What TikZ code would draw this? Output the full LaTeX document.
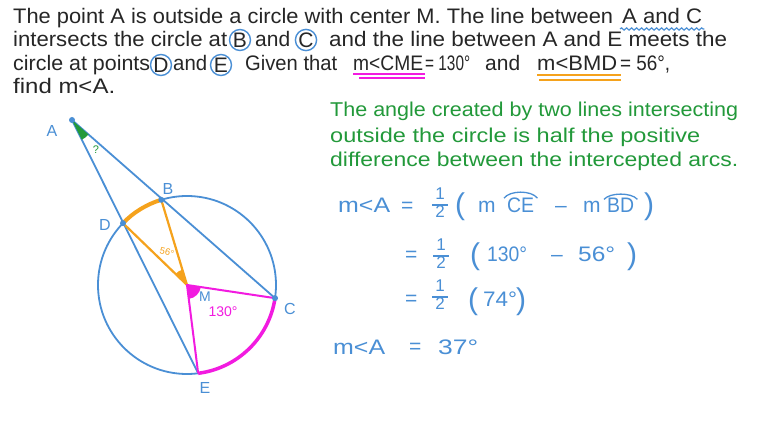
\documentclass[tikz,border=0pt]{standalone}
\usepackage{fontspec}
\setmainfont{Liberation Sans}
\usepackage{graphicx}
\usetikzlibrary{calc,decorations.pathmorphing}
\definecolor{bl}{HTML}{4A8FD5}
\definecolor{gr}{HTML}{22993A}
\definecolor{mag}{HTML}{F21BE0}
\definecolor{org}{HTML}{F5A21C}
\definecolor{ink}{HTML}{262626}
\newcommand\fw[2]{\resizebox{#1pt}{\height}{#2}}
\newcommand\halfstack{\renewcommand\arraystretch{0.8}\begin{tabular}{@{\hspace{3pt}}c@{\hspace{3pt}}}1\\\hline 2\end{tabular}}
\setlength{\arrayrulewidth}{1.4pt}
\tikzset{
 txt/.style={anchor=base west,inner sep=0pt,text=ink,font=\fontsize{21}{24}\selectfont},
 gtxt/.style={txt,text=gr,font=\fontsize{20}{24}\selectfont},
 mth/.style={anchor=base west,inner sep=0pt,text=bl,font=\fontsize{21}{24}\selectfont},
 paren/.style={mth,font=\fontsize{30}{30}\selectfont},
 frac/.style={inner sep=0pt,text=bl,font=\fontsize{17}{19}\selectfont},
 circ/.style={circle,draw=bl,line width=1.4pt,inner sep=0pt,minimum size=21pt,text=ink,font=\fontsize{21}{24}\selectfont},
 blue line/.style={draw=bl,line width=1.8pt},
 lbl/.style={text=bl,font=\fontsize{16}{16}\selectfont,inner sep=0pt},
 dot/.style={circle,fill=bl,inner sep=0pt,minimum size=6pt},
}
\begin{document}
\begin{tikzpicture}[x=1pt,y=-1pt]
\useasboundingbox[fill=white] (0,0) rectangle (760,427);

% ---- problem text ----
\node[txt] (t1a) at (13,24) {\fw{600}{The point A is outside a circle with center M. The line between}};
\node[txt] (t1b) at (622,24) {\fw{80}{A and C}};
\draw[bl,line width=1.2pt,decorate,decoration={snake,amplitude=1.1pt,segment length=5pt}]
  ($(t1b.base west)+(-2,5)$) -- ($(t1b.base east)+(2,5)$);

\node[txt] (t2a) at (13,47) {\fw{214}{intersects the circle at}};
\node[circ] (cB) at (240,40) {B};
\node[txt] (t2b) at (255,47) {\fw{35}{and}};
\node[circ] (cC) at (306,40) {C};
\node[txt] (t2c) at (329,47) {\fw{398}{and the line between A and E meets the}};

\node[txt] (t3a) at (13,71) {\fw{137}{circle at points}};
\node[circ] (cD) at (161,65) {D};
\node[txt] (t3b) at (173,71) {\fw{34}{and}};
\node[circ] (cE) at (221,65) {E};
\node[txt] (t3c) at (245,71) {\fw{92}{Given that}};
\node[txt] (t3d) at (353,71) {\fw{70}{m<CME}};
\node[txt] (t3e) at (425,71) {\fw{45}{= 130°}};
\node[txt] (t3f) at (485,71) {\fw{35}{and}};
\node[txt] (t3g) at (537,71) {\fw{80}{m<BMD}};
\node[txt] (t3h) at (620,71) {\fw{50}{= 56°,}};
\draw[mag,line width=1.6pt] ($(t3d.base west)+(0,3)$) -- ($(t3d.base east)+(2,3)$);
\draw[mag,line width=1.6pt] ($(t3d.base west)+(6,7)$) -- ($(t3d.base east)+(2,7)$);
\draw[org,line width=1.6pt] ($(t3g.base west)+(0,4)$) -- ($(t3g.base east)+(4,4)$);
\draw[org,line width=1.6pt] ($(t3g.base west)+(2,9)$) -- ($(t3g.base east)+(4,9)$);

\node[txt] (t4) at (13,94) {\fw{102}{find m<A.}};

% ---- green rule ----
\node[gtxt] (g1) at (330,117) {\fw{408}{The angle created by two lines intersecting}};
\node[gtxt] (g2) at (330,143) {\fw{370}{outside the circle is half the positive}};
\node[gtxt] (g3) at (330,167) {\fw{408}{difference between the intercepted arcs.}};

% ---- working ----
\node[mth] (r1a) at (338,213) {\fw{52}{m<A}};
\node[mth] (r1b) at (401,213) {=};
\node[frac] (r1c) at (440,205) {\halfstack};
\node[paren] (r1d) at (455,215) {(};
\node[mth] (r1e) at (478,213) {m};
\node[mth] (r1f) at (507,213) {\fw{27}{CE}};
\draw[bl,line width=1.3pt] ($(r1f.north west)+(-3,0)$) .. controls +(6,-8) and +(-6,-8) .. ($(r1f.north east)+(3,0)$);
\node[mth] (r1g) at (555,213) {–};
\node[mth] (r1h) at (583,213) {m};
\node[mth] (r1i) at (607,213) {\fw{27}{BD}};
\draw[bl,line width=1.3pt] ($(r1i.north west)+(-3,1)$) .. controls +(6,-7) and +(-6,-7) .. ($(r1i.north east)+(3,1)$);
\node[paren] (r1j) at (644,215) {)};

\node[mth] (r2a) at (405,262) {=};
\node[frac] (r2b) at (441,256) {\halfstack};
\node[paren] (r2c) at (470,265) {(};
\node[mth] (r2d) at (487,262) {\fw{40}{130°}};
\node[mth] (r2e) at (551,262) {–};
\node[mth] (r2f) at (578,262) {\fw{37}{56°}};
\node[paren] (r2g) at (627,265) {)};

\node[mth] (r3a) at (405,306) {=};
\node[frac] (r3b) at (440,297) {\halfstack};
\node[paren] (r3c) at (468,310) {(};
\node[mth] (r3d) at (483,307) {\fw{34}{74°}};
\node[paren] (r3e) at (516,310) {)};

\node[mth] (r4a) at (333,355) {\fw{52}{m<A}};
\node[mth] (r4b) at (409,353) {=};
\node[mth] (r4c) at (438,355) {\fw{40}{37°}};

% ---- figure ----
\coordinate (M) at (187,285);
\coordinate (A) at (72,120);
\coordinate (B) at ($(M)+(-106.8:89)$);
\coordinate (D) at ($(M)+(-136:89)$);
\coordinate (C) at ($(M)+(8.5:89)$);
\coordinate (E) at ($(M)+(82.8:89)$);

\draw[blue line] (M) circle[radius=89];
\draw[blue line] (A) -- (C);
\draw[blue line] (A) -- (E);

\fill[gr] (A) -- ++(41.2:22) arc[start angle=41.2,end angle=63.5,radius=22] -- cycle;

\draw[org,line width=2.2pt,line join=round] (D) -- (M) -- (B);
\draw[org,line width=4pt] (D) arc[start angle=-136,end angle=-106.8,radius=89];
\fill[org] (M) -- ++(-136:16) arc[start angle=-136,end angle=-106.8,radius=16] -- cycle;

\draw[mag,line width=2pt,line join=round] (C) -- (M) -- (E);
\draw[mag,line width=3.5pt] (C) arc[start angle=8.5,end angle=82.8,radius=89];
\fill[mag] (M) -- ++(8.5:14) arc[start angle=8.5,end angle=82.8,radius=14] -- cycle;

\node[dot] (dA) at (A) {};
\node[dot] (dB) at (B) {};
\node[dot] (dC) at (C) {};
\node[dot] (dD) at (D) {};

\node[lbl] (lA) at (52,131) {A};
\node[lbl] (lB) at (168,189) {B};
\node[lbl] (lD) at (105,225) {D};
\node[lbl] (lC) at (290,309) {C};
\node[lbl] (lE) at (205,388) {E};
\node[lbl,font=\fontsize{14}{14}\selectfont] (lM) at (205,297) {M};
\node[text=mag,inner sep=0pt,font=\fontsize{14}{14}\selectfont] (l130) at (223,312) {130°};
\node[text=org,inner sep=0pt,font=\fontsize{9.5}{10}\selectfont,rotate=-15] (l56) at (167,252) {56°};
\node[text=gr,inner sep=0pt,font=\fontsize{11}{11}\selectfont] (lq) at (96,150) {?};
\end{tikzpicture}
\end{document}
